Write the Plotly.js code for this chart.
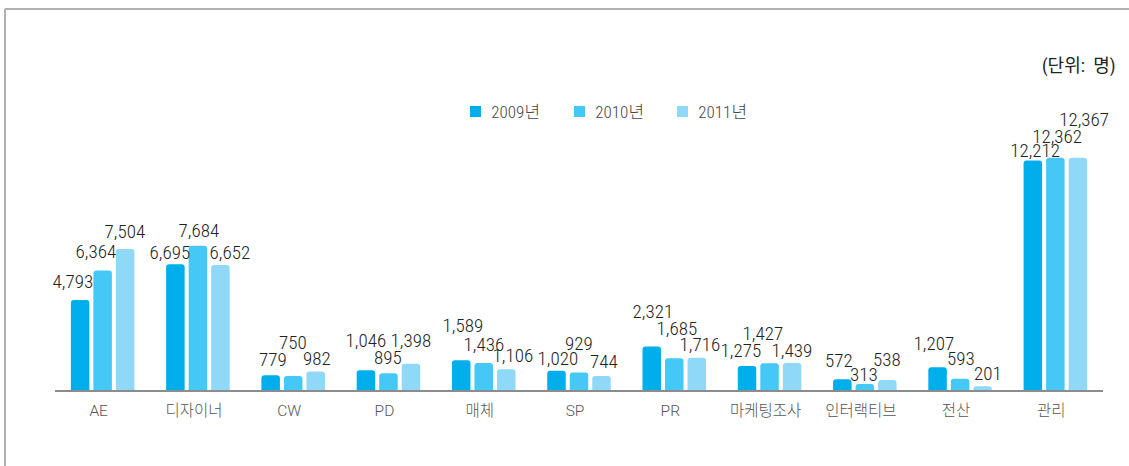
<!DOCTYPE html>
<html>
<head>
<meta charset="utf-8">
<script src="https://cdn.plot.ly/plotly-3.0.1.min.js"></script>
<style>
html,body{margin:0;padding:0;background:#fff;}
#chart{width:1129px;height:466px;}
#chart text.annotation-text{font-stretch:80% !important;}
</style>
</head>
<body>
<div id="chart"></div>
<script>
// ---- data ----
const categories = ['AE', '디자이너', 'CW', 'PD', '매체', 'SP', 'PR', '마케팅조사', '인터랙티브', '전산', '관리'];
const seriesNames = ['2009년', '2010년', '2011년'];
const values2009 = [4793, 6695, 779, 1046, 1589, 1020, 2321, 1275, 572, 1207, 12212];
const values2010 = [6364, 7684, 750, 895, 1436, 929, 1685, 1427, 313, 593, 12362];
const values2011 = [7504, 6652, 982, 1398, 1106, 744, 1716, 1439, 538, 201, 12367];
const unitLabel = '(단위:  명)';

// ---- styling ----
const colors = ['#00AEEC', '#45C8F5', '#8FD8F8'];
const seriesValues = [values2009, values2010, values2011];
// label nudges in pixels [dx, dy above bar top] (layout only)
const nudges = [
  [[-7,18],[-5.5,12],[2,16],[0,30],[2,34.5],[1,12],[1,34.7],[-6,16],[-3,19],[-4,24],[2,10]],
  [[-6.5,18.7],[1,15],[0,33.5],[0,16],[0,18.7],[0,29],[3,30],[-7,29.3],[-1,10],[1,20],[1.5,21]],
  [[0,17.5],[9.5,13],[1,12.7],[0,23.5],[7,13.3],[2,15],[3,13.7],[0,12],[0,20],[5,12.7],[6,38]]
];
const barOffset = 22.5;
const labelFont = {family: 'Roboto, sans-serif', size: 19, color: '#222', weight: 350};

// pixel -> paper helpers for the plot box (l=55, plot width 1048, bottom at 390, height 263)
const PX = p => (p - 55) / 1048;
const PY = p => (390 - p) / 263;

const traces = seriesValues.map((vals, i) => ({
  type: 'bar',
  name: seriesNames[i],
  x: categories,
  y: vals,
  marker: {color: colors[i], cornerradius: 3, line: {width: 0}},
  hoverinfo: 'none'
}));

const annotations = [];
seriesValues.forEach((vals, s) => {
  vals.forEach((v, c) => {
    annotations.push({
      x: categories[c], y: v, xref: 'x', yref: 'y',
      text: v.toLocaleString('en-US'),
      showarrow: false,
      xanchor: 'center', yanchor: 'middle',
      xshift: (s - 1) * barOffset + nudges[s][c][0],
      yshift: nudges[s][c][1],
      font: labelFont
    });
  });
});
annotations.push({
  x: PX(1118), y: PY(66), xref: 'paper', yref: 'paper',
  text: unitLabel, showarrow: false, xanchor: 'right', yanchor: 'middle',
  font: {family: 'Roboto, Noto Sans CJK KR, sans-serif', size: 18, color: '#222'}
});

// manual legend
const legendSquareX = [470, 574, 677];
const shapes = [
  {type: 'line', xref: 'paper', yref: 'paper', x0: PX(5), x1: PX(1130), y0: PY(9), y1: PY(9), line: {color: '#b0b0b0', width: 2}},
  {type: 'line', xref: 'paper', yref: 'paper', x0: PX(5), x1: PX(5), y0: PY(9), y1: PY(470), line: {color: '#b0b0b0', width: 2}}
];
seriesNames.forEach((nm, i) => {
  shapes.push({type: 'rect', xref: 'paper', yref: 'paper',
    x0: PX(legendSquareX[i]), x1: PX(legendSquareX[i] + 11), y0: PY(106), y1: PY(117),
    fillcolor: colors[i], line: {width: 0}});
  annotations.push({x: PX(legendSquareX[i] + 17), y: PY(111.5), xref: 'paper', yref: 'paper',
    text: nm, showarrow: false, xanchor: 'left', yanchor: 'middle',
    font: {family: 'Roboto, Noto Sans CJK KR, sans-serif', size: 17, color: '#444', weight: 300}});
});

const layout = {
  width: 1129, height: 466,
  margin: {l: 55, r: 26, t: 127, b: 76, autoexpand: false},
  paper_bgcolor: '#fff', plot_bgcolor: '#fff',
  barmode: 'group',
  bargap: 0.291,
  bargroupgap: 0.178,
  showlegend: false,
  xaxis: {
    type: 'category', automargin: false, range: [-0.5, categories.length - 0.5], autorange: false,
    showline: true, linecolor: '#8c8c8c', linewidth: 2,
    showgrid: false, zeroline: false, ticks: '', ticklabelstandoff: 5, ticklabelshift: -4,
    tickfont: {family: 'Roboto, Noto Sans CJK KR, sans-serif', size: 15.5, color: '#555', weight: 300},
    fixedrange: true
  },
  yaxis: {
    range: [0, 14000], visible: false, showgrid: false, zeroline: false, fixedrange: true
  },
  shapes: shapes,
  annotations: annotations,
  font: {family: 'Roboto, Noto Sans CJK KR, sans-serif'}
};

Plotly.newPlot('chart', traces, layout, {displayModeBar: false, staticPlot: true});
</script>
</body>
</html>
